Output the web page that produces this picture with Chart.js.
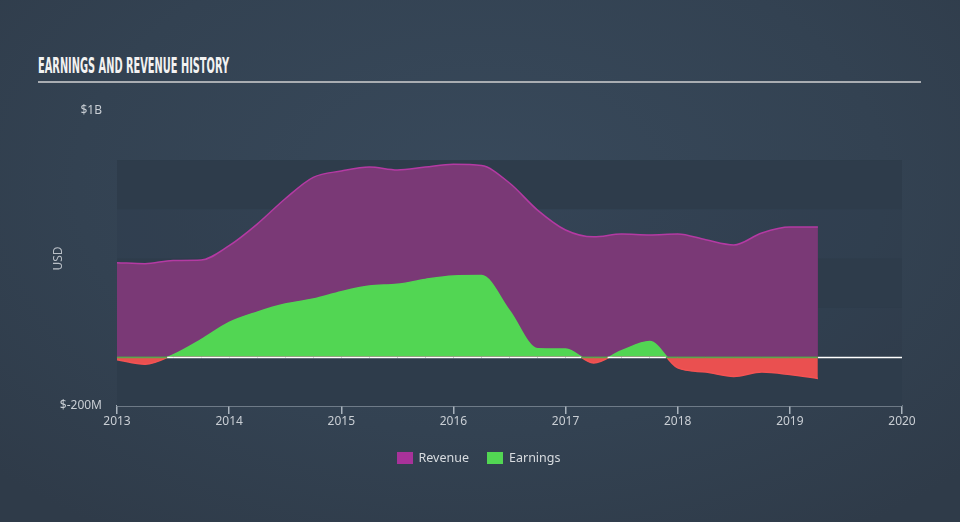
<!DOCTYPE html>
<html>
<head>
<meta charset="utf-8">
<script src="https://cdn.jsdelivr.net/npm/chart.js@4.4.1/dist/chart.umd.min.js"></script>
<style>
  html, body { margin:0; padding:0; width:960px; height:522px; overflow:hidden; }
  body { background: radial-gradient(ellipse 70% 80% at 50% 35%, #38495b 0%, #334252 60%, #2f3b49 100%); font-family: "Noto Sans", sans-serif; position:relative; }
  #title { position:absolute; left:38px; top:56px; color:#f2f2f2; font-family:"Liberation Sans Narrow","DejaVu Sans Condensed",sans-serif; font-weight:bold; font-size:21px; line-height:21px; white-space:nowrap; transform-origin:0 0; letter-spacing:0; }
  #rule { position:absolute; left:38px; top:81px; width:883px; height:2px; background:#a9adb2; }
  #wrap { position:absolute; left:0; top:0; width:960px; height:522px; }
  #legend { position:absolute; top:449px; left:0; width:960px; text-align:center; font-size:12.5px; color:#d8dce0; }
  .item { display:inline-flex; align-items:center; margin:0 9px; }
  .box { width:16px; height:12px; display:inline-block; margin-right:6px; }
</style>
</head>
<body>
<div id="title">EARNINGS AND REVENUE HISTORY</div>
<div id="rule"></div>
<div id="wrap"><canvas id="c" width="960" height="522"></canvas></div>
<div id="legend"><span class="item" style="margin-left:6px"><span class="box" style="background:#a8329a"></span>Revenue</span><span class="item"><span class="box" style="background:#52d653"></span>Earnings</span></div>
<script>
// ---- data (USD millions, trailing twelve months) ----
const quarters = [2013, 2013.25, 2013.5, 2013.75, 2014, 2014.25, 2014.5, 2014.75, 2015, 2015.25, 2015.5, 2015.75, 2016, 2016.25, 2016.5, 2016.75, 2017, 2017.25, 2017.5, 2017.75, 2018, 2018.25, 2018.5, 2018.75, 2019, 2019.25];
const revenue  = [383, 379, 392, 394, 452, 540, 643, 730, 756, 772, 760, 772, 783, 778, 707, 597, 516, 488, 500, 496, 500, 476, 455, 504, 528, 528];
const earnings = [-12, -30, 8, 70, 140, 182, 215, 235, 265, 288, 295, 315, 329, 331, 188, 33, 32, -25, 25, 62, -45, -62, -80, -62, -72, -88];
const yearTicks = [2013, 2014, 2015, 2016, 2017, 2018, 2019, 2020];
const yLabels = { "1000": "$1B", "-200": "$-200M" };

// fit title width
const t = document.getElementById('title');
const w = t.getBoundingClientRect().width;
t.style.transform = 'scaleX(' + (191 / w) + ')';

const GREEN = '#52d653', RED = '#ea5050', RED_LINE = '#f45252';

function splitColor(ctx, above, below) {
  const chart = ctx.chart;
  const a = chart.chartArea;
  if (!a) return above;
  const y0 = chart.scales.y.getPixelForValue(0);
  const f = Math.min(1, Math.max(0, (y0 - a.top) / (a.bottom - a.top)));
  const g = chart.ctx.createLinearGradient(0, a.top, 0, a.bottom);
  g.addColorStop(0, above); g.addColorStop(f, above);
  g.addColorStop(f, below); g.addColorStop(1, below);
  return g;
}

const bandsPlugin = {
  id: 'bands',
  beforeDatasetsDraw(chart) {
    const { ctx, chartArea: a, scales: { y } } = chart;
    ctx.save();
    const yTop = y.getPixelForValue(800);
    ctx.fillStyle = 'rgba(40,52,66,0.18)';
    ctx.fillRect(a.left, yTop, a.right - a.left, a.bottom - yTop);
    ctx.fillStyle = '#2e3c4b';
    [[600, 800], [200, 400], [-200, 0]].forEach(([lo, hi]) => {
      const y1 = y.getPixelForValue(hi), y2 = y.getPixelForValue(lo);
      ctx.fillRect(a.left, y1, a.right - a.left, y2 - y1);
    });
    ctx.restore();
  },
  afterDatasetsDraw(chart) {
    const { ctx, chartArea: a, scales: { x, y } } = chart;
    const y0 = Math.round(y.getPixelForValue(0)) + 0.5;
    ctx.save();
    ctx.lineWidth = 1.5;
    ctx.strokeStyle = '#ffffff';
    ctx.beginPath();
    ctx.moveTo(x.getPixelForValue(quarters[quarters.length - 1]), y0);
    ctx.lineTo(a.right, y0);
    ctx.stroke();
    for (let i = 0; i < quarters.length - 1; i++) {
      const e0 = earnings[i], e1 = earnings[i + 1];
      const q0 = quarters[i], q1 = quarters[i + 1];
      const segs = [];
      if ((e0 >= 0) === (e1 >= 0)) segs.push([q0, q1, e0 >= 0]);
      else {
        const qc = q0 + (q1 - q0) * (e0 / (e0 - e1));
        segs.push([q0, qc, e0 >= 0]);
        segs.push([qc, q1, e1 >= 0]);
      }
      segs.forEach(([s, e, pos]) => {
        ctx.strokeStyle = pos ? '#ffffff' : '#5fa24e';
        ctx.beginPath();
        ctx.moveTo(x.getPixelForValue(s), y0);
        ctx.lineTo(x.getPixelForValue(e), y0);
        ctx.stroke();
      });
    }
    ctx.fillStyle = '#b9bfc6';
    ctx.font = '12px "Noto Sans", sans-serif';
    ctx.translate(62, (a.top + a.bottom) / 2);
    ctx.rotate(-Math.PI / 2);
    ctx.textAlign = 'center';
    ctx.fillText('USD', 0, 0);
    ctx.restore();
  }
};

new Chart(document.getElementById('c'), {
  type: 'line',
  data: {
    datasets: [
      {
        label: 'Revenue',
        data: quarters.map((q, i) => ({ x: q, y: revenue[i] })),
        borderColor: '#b43aa3',
        borderWidth: 1.5,
        backgroundColor: '#7a3976',
        fill: 'origin',
        pointRadius: 0,
        cubicInterpolationMode: 'monotone',
        order: 2
      },
      {
        label: 'Earnings',
        data: quarters.map((q, i) => ({ x: q, y: earnings[i] })),
        borderWidth: 1.5,
        borderColor: c => splitColor(c, GREEN, RED_LINE),
        fill: { target: 'origin', above: GREEN, below: RED },
        pointRadius: 0,
        cubicInterpolationMode: 'monotone',
        order: 1
      }
    ]
  },
  options: {
    responsive: false,
    animation: false,
    events: [],
    layout: { padding: { left: 0, right: 58, top: 111, bottom: 86 } },
    plugins: { legend: { display: false }, tooltip: { enabled: false } },
    scales: {
      x: {
        type: 'linear',
        min: 2013, max: 2020,
        afterBuildTicks: s => { s.ticks = yearTicks.map(v => ({ value: v })); },
        afterFit: s => { s.height = 30; },
        ticks: { color: '#c9ced4', font: { size: 12, family: '"Noto Sans", sans-serif' }, padding: 0, callback: v => String(v), maxRotation: 0 },
        grid: { display: true, drawOnChartArea: false, drawTicks: true, tickLength: 8, color: '#a9b3bd', lineWidth: 1.5 },
        border: { display: true, color: '#a9b3bd', width: 1.5 }
      },
      y: {
        min: -200, max: 1000,
        afterBuildTicks: s => { s.ticks = [-200, 1000].map(v => ({ value: v })); },
        afterFit: s => { s.width = 117; },
        ticks: { color: '#c9ced4', font: { size: 12, family: '"Noto Sans", sans-serif' }, padding: 15, callback: v => yLabels[String(v)] || '' },
        grid: { display: false, drawTicks: false },
        border: { display: false }
      }
    }
  },
  plugins: [bandsPlugin]
});
</script>
</body>
</html>
